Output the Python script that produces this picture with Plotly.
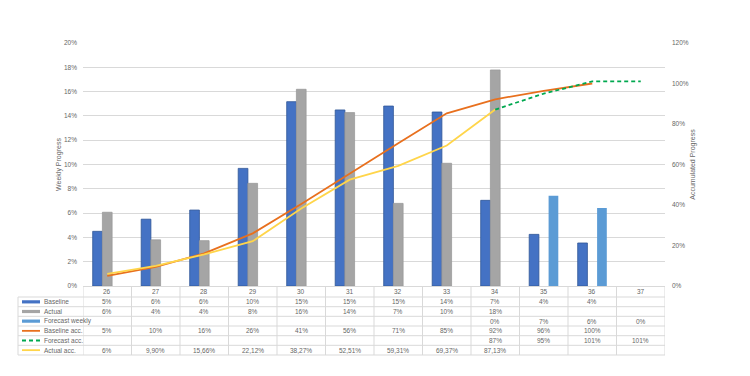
import plotly.graph_objects as go

weeks = ["26", "27", "28", "29", "30", "31", "32", "33", "34", "35", "36", "37"]
baseline = [0.045, 0.055, 0.0625, 0.0968, 0.1517, 0.1449, 0.1481, 0.1432, 0.0705, 0.0425, 0.0354, None]
actual = [0.0607, 0.038, 0.0373, 0.0845, 0.1619, 0.1427, 0.068, 0.101, 0.1778, None, None, None]
forecast_weekly = [None, None, None, None, None, None, None, None, 0.0, 0.0743, 0.0642, 0.0]
baseline_acc = [0.05, 0.095, 0.161, 0.26, 0.405, 0.556, 0.705, 0.853, 0.922, 0.964, 1.0, None]
forecast_acc = [None, None, None, None, None, None, None, None, 0.8713, 0.95, 1.01, 1.01]
actual_acc = [0.06, 0.099, 0.1566, 0.2212, 0.3827, 0.5251, 0.5931, 0.6937, 0.8713, None, None, None]

tbl_baseline = ["5%", "6%", "6%", "10%", "15%", "15%", "15%", "14%", "7%", "4%", "4%", ""]
tbl_actual = ["6%", "4%", "4%", "8%", "16%", "14%", "7%", "10%", "18%", "", "", ""]
tbl_forecast_weekly = ["", "", "", "", "", "", "", "", "0%", "7%", "6%", "0%"]
tbl_baseline_acc = ["5%", "10%", "16%", "26%", "41%", "56%", "71%", "85%", "92%", "96%", "100%", ""]
tbl_forecast_acc = ["", "", "", "", "", "", "", "", "87%", "95%", "101%", "101%"]
tbl_actual_acc = ["6%", "9,90%", "15,66%", "22,12%", "38,27%", "52,51%", "59,31%", "69,37%", "87,13%", "", "", ""]

series_names = ["Baseline", "Actual", "Forecast weekly", "Baseline acc.", "Forecast acc.", "Actual acc."]

C_BASE = "#4472C4"
C_ACT = "#A5A5A5"
C_FW = "#5B9BD5"
C_BACC = "#E8701E"
C_FACC = "#00A84F"
C_AACC = "#FFD54A"
TXT = "#666666"
GRID = "#D9D9D9"
FONT = "Liberation Sans, Arial, sans-serif"

W, H = 750, 376
L, R, T, B = 83, 665, 43, 286


def py(p):
    return (B - p) / (B - T)


def px(p):
    return (p - L) / (R - L)


fig = go.Figure()
fig.add_trace(go.Bar(x=weeks, y=baseline, name="Baseline", marker=dict(color=C_BASE, line=dict(color="#2F5597", width=0.8))))
fig.add_trace(go.Bar(x=weeks, y=actual, name="Actual", marker=dict(color=C_ACT, line=dict(color="#9A9A9A", width=0.8))))
fig.add_trace(go.Bar(x=weeks, y=forecast_weekly, name="Forecast weekly", marker=dict(color=C_FW, line=dict(width=0))))
fig.add_trace(go.Scatter(x=weeks, y=baseline_acc, name="Baseline acc.", yaxis="y2", mode="lines",
                         line=dict(color=C_BACC, width=1.8)))
fig.add_trace(go.Scatter(x=weeks, y=actual_acc, name="Actual acc.", yaxis="y2", mode="lines",
                         line=dict(color=C_AACC, width=1.8)))
fig.add_trace(go.Scatter(x=weeks, y=forecast_acc, name="Forecast acc.", yaxis="y2", mode="lines",
                         line=dict(color=C_FACC, width=1.8, dash="4px,3px")))

shapes = []
annotations = []

row_lines = [297, 306.7, 316.3, 326, 335.7, 345.3, 355]
header_center = (B + row_lines[0]) / 2
table_left = 18
fnt = dict(size=6.5, color=TXT, family=FONT)

for i, w in enumerate(weeks):
    annotations.append(dict(x=i, y=py(header_center), xref="x", yref="paper", text=w, showarrow=False,
                            xanchor="center", yanchor="middle", font=fnt))

rows = [tbl_baseline, tbl_actual, tbl_forecast_weekly, tbl_baseline_acc, tbl_forecast_acc, tbl_actual_acc]
for r, vals in enumerate(rows):
    yc = (row_lines[r] + row_lines[r + 1]) / 2
    for i, v in enumerate(vals):
        if v:
            annotations.append(dict(x=i, y=py(yc), xref="x", yref="paper", text=v, showarrow=False,
                                    xanchor="center", yanchor="middle", font=fnt))
    annotations.append(dict(x=px(42), y=py(yc), xref="paper", yref="paper", text=series_names[r],
                            showarrow=False, xanchor="left", yanchor="middle", font=fnt))
    kx0, kx1 = px(22), px(40)
    if r < 3:
        col = [C_BASE, C_ACT, C_FW][r]
        shapes.append(dict(type="rect", xref="paper", yref="paper", x0=kx0, x1=kx1,
                           y0=py(yc + 1.6), y1=py(yc - 1.6), fillcolor=col, line=dict(width=0)))
    else:
        col = [C_BACC, C_FACC, C_AACC][r - 3]
        dash = "4px,3px" if r == 4 else "solid"
        shapes.append(dict(type="line", xref="paper", yref="paper", x0=kx0, x1=kx1,
                           y0=py(yc), y1=py(yc), line=dict(color=col, width=1.8, dash=dash)))

for yl in row_lines:
    shapes.append(dict(type="line", xref="paper", yref="paper", x0=px(table_left), x1=1,
                       y0=py(yl), y1=py(yl), line=dict(color=GRID, width=1)))
for i in range(len(weeks) + 1):
    shapes.append(dict(type="line", xref="x", yref="paper", x0=i - 0.5, x1=i - 0.5,
                       y0=py(B), y1=py(row_lines[-1]), line=dict(color=GRID, width=1)))
shapes.append(dict(type="line", xref="paper", yref="paper", x0=px(table_left), x1=px(table_left),
                   y0=py(row_lines[0]), y1=py(row_lines[-1]), line=dict(color=GRID, width=1)))

fig.update_layout(
    width=W, height=H,
    margin=dict(l=L, r=W - R, t=T, b=H - B, pad=0),
    paper_bgcolor="white", plot_bgcolor="white",
    barmode="group", bargap=0.4, bargroupgap=0,
    showlegend=False,
    font=dict(family=FONT, size=6.5, color=TXT),
    xaxis=dict(type="category", range=[-0.5, 11.5], showticklabels=False, showgrid=False,
               showline=True, linecolor=GRID, linewidth=1, ticks=""),
    yaxis=dict(range=[0, 0.2], dtick=0.02, tickformat=".0%", showgrid=True, gridcolor=GRID, gridwidth=1,
               zeroline=False, showline=False, ticks="", ticklabelstandoff=5,
               tickfont=dict(size=6.5, color=TXT),
               title=dict(text="Weekly Progress", font=dict(size=7, color=TXT), standoff=1)),
    yaxis2=dict(range=[0, 1.2], dtick=0.2, tickformat=".0%", overlaying="y", side="right", showgrid=False,
                zeroline=False, showline=False, ticks="", ticklabelstandoff=6,
                tickfont=dict(size=6.5, color=TXT),
                title=dict(text="Accumulated Progress", font=dict(size=7, color=TXT), standoff=2)),
    shapes=shapes,
    annotations=annotations,
)

fig.write_html("out.html", config={"displayModeBar": False},
               post_script="document.body.style.margin='0';")
